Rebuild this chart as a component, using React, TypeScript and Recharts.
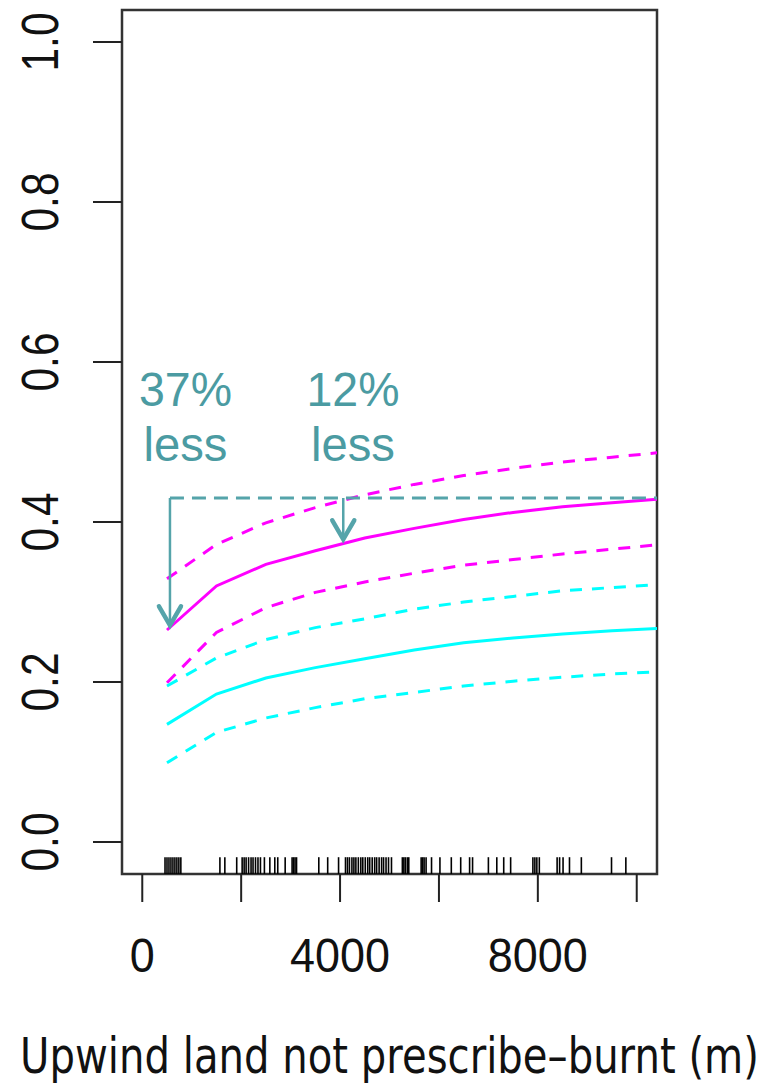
import React from 'react';
import { LineChart, Line, XAxis, YAxis, ReferenceLine, ReferenceArea, ReferenceDot, Label } from 'recharts';

// distance grid (m) the fitted curves are evaluated on
const DIST = [500, 1500, 2500, 3500, 4500, 5500, 6500, 7500, 8500, 9500, 10500];

// fitted probability and confidence bands, magenta group
const MAGENTA_FIT = [0.265, 0.32, 0.347, 0.364, 0.38, 0.392, 0.403, 0.412, 0.419, 0.424, 0.429];
const MAGENTA_HI = [0.329, 0.372, 0.399, 0.418, 0.434, 0.447, 0.458, 0.467, 0.475, 0.481, 0.487];
const MAGENTA_LO = [0.199, 0.262, 0.293, 0.312, 0.325, 0.336, 0.346, 0.353, 0.36, 0.366, 0.372];

// cyan group
const CYAN_FIT = [0.147, 0.185, 0.205, 0.218, 0.229, 0.24, 0.249, 0.255, 0.26, 0.264, 0.267];
const CYAN_HI = [0.195, 0.23, 0.253, 0.268, 0.279, 0.291, 0.3, 0.307, 0.314, 0.318, 0.322];
const CYAN_LO = [0.099, 0.137, 0.155, 0.168, 0.179, 0.187, 0.195, 0.201, 0.206, 0.21, 0.213];

// observed distances shown as a rug along the bottom
const RUG = [
  460, 500, 540, 580, 620, 660, 700, 740, 780,
  1570, 1670, 1910, 2020, 2060, 2100, 2150, 2200, 2240, 2290, 2340, 2390,
  2470, 2580, 2680, 2740, 2890, 3030, 3060, 3090, 3120,
  3570, 3750, 3970, 4110, 4150, 4190, 4240, 4280, 4320, 4370, 4420, 4460,
  4510, 4560, 4600, 4650, 4700, 4740, 4790, 4840, 4880, 4930, 4980, 5040,
  5260, 5290, 5320, 5360, 5390, 5640, 5670, 5700, 5740, 5850, 6020, 6250,
  6440, 6620, 6680, 7000, 7170, 7310, 7450, 7900, 7940, 7980, 8030,
  8390, 8440, 8510, 8640, 8880, 9490, 9780,
];

const X_TICKS = [0, 2000, 4000, 6000, 8000, 10000];
const X_LABELS = [0, 4000, 8000];
const Y_TICKS = [0, 0.2, 0.4, 0.6, 0.8, 1.0];

// reduction arrows: level of the reference line, arrow positions and the stated reductions
const REF_LEVEL = 0.43;
const ARROW_X = [560, 4065];
const ARROW_PCT = [37, 12];

const X_DOMAIN: [number, number] = [-410, 10410];
const Y_DOMAIN: [number, number] = [-0.04, 1.04];

const MAGENTA = '#ff00ff';
const CYAN = '#00ffff';
const TEAL = '#55a4aa';
const TEAL_TEXT = '#4b9ba2';
const DIGITS = '"Liberation Sans", Arial, sans-serif';

const data = DIST.map((d, i) => ({
  d,
  mFit: MAGENTA_FIT[i],
  mHi: MAGENTA_HI[i],
  mLo: MAGENTA_LO[i],
  cFit: CYAN_FIT[i],
  cHi: CYAN_HI[i],
  cLo: CYAN_LO[i],
}));

// text anchors for the percentage notes (data units)
const NOTE_POS = [
  { x: 874, y: 0.545 },
  { x: 4261, y: 0.545 },
];

function XTick(props: any) {
  const { x, y, payload } = props;
  if (!X_LABELS.includes(payload.value)) return null;
  const s = String(payload.value);
  return (
    <text x={x} y={y + 68} textAnchor="middle" fontFamily={DIGITS} fontSize={49} fill="#111"
      textLength={25 * s.length} lengthAdjust="spacingAndGlyphs">
      {s}
    </text>
  );
}

function YTick(props: any) {
  const { x, y, payload } = props;
  return (
    <text transform={`translate(${x - 33}, ${y}) rotate(-90)`} textAnchor="middle" fontFamily={DIGITS}
      fontSize={51} fill="#111" textLength={59} lengthAdjust="spacingAndGlyphs">
      {payload.value.toFixed(1)}
    </text>
  );
}

function Chevron(props: any) {
  const { cx, cy } = props;
  return (
    <path d={`M${cx - 11},${cy - 19} L${cx},${cy} L${cx + 11},${cy - 19}`} fill="none" stroke={TEAL}
      strokeWidth={4.5} strokeLinecap="round" strokeLinejoin="miter" />
  );
}

function Note(pct: number) {
  return (props: any) => (
    <g fill={TEAL_TEXT} fontFamily={DIGITS} fontSize={48} textAnchor="middle">
      <text x={props.cx} y={props.cy} textLength={93} lengthAdjust="spacingAndGlyphs">{pct}%</text>
      <text x={props.cx} y={props.cy + 55} textLength={84} lengthAdjust="spacingAndGlyphs">less</text>
    </g>
  );
}

// axis title, squeezed horizontally like the original plot device output
function AxisTitle(p: any) {
  const cx = p.viewBox.x + p.viewBox.width / 2;
  const base = p.viewBox.y + 199;
  return (
    <text transform={`translate(${cx}, ${base}) scale(0.82, 1)`} textAnchor="middle"
      fontFamily='"DejaVu Sans", sans-serif' fontSize={49} fill="#111">
      Upwind land not prescribe–burnt (m)
    </text>
  );
}

export default function App() {
  return (
    <div style={{ position: 'absolute', left: 0, top: 0, background: '#fff', fontFamily: 'sans-serif' }}>
      <LineChart width={780} height={1089} data={data} margin={{ top: 10, right: 123, bottom: 0, left: 0 }}>
        <XAxis dataKey="d" type="number" domain={X_DOMAIN} allowDataOverflow ticks={X_TICKS} interval={0}
          axisLine={false} tickSize={28} tickLine={{ stroke: '#222', strokeWidth: 2 }} height={215} tick={<XTick />}>
          <Label content={<AxisTitle />} />
        </XAxis>
        <YAxis type="number" domain={Y_DOMAIN} allowDataOverflow ticks={Y_TICKS} interval={0} width={122}
          axisLine={false} tickSize={29} tickLine={{ stroke: '#222', strokeWidth: 2 }} tick={<YTick />} />

        <Line dataKey="mHi" stroke={MAGENTA} strokeWidth={3} strokeDasharray="12 10" dot={false} isAnimationActive={false} />
        <Line dataKey="mFit" stroke={MAGENTA} strokeWidth={3} dot={false} isAnimationActive={false} />
        <Line dataKey="mLo" stroke={MAGENTA} strokeWidth={3} strokeDasharray="12 10" dot={false} isAnimationActive={false} />
        <Line dataKey="cHi" stroke={CYAN} strokeWidth={3} strokeDasharray="12 10" dot={false} isAnimationActive={false} />
        <Line dataKey="cFit" stroke={CYAN} strokeWidth={3} dot={false} isAnimationActive={false} />
        <Line dataKey="cLo" stroke={CYAN} strokeWidth={3} strokeDasharray="12 10" dot={false} isAnimationActive={false} />

        {/* rug of observed distances */}
        {RUG.map((r, i) => (
          <ReferenceLine key={`rug-${i}`} segment={[{ x: r, y: -0.04 }, { x: r, y: -0.019 }]}
            stroke="#000" strokeWidth={1.6} ifOverflow="visible" />
        ))}

        {/* reference level and reduction arrows */}
        <ReferenceLine segment={[{ x: ARROW_X[0], y: REF_LEVEL }, { x: X_DOMAIN[1], y: REF_LEVEL }]}
          stroke={TEAL} strokeWidth={3} strokeDasharray="14 8" ifOverflow="visible" />
        {ARROW_X.map((ax, i) => {
          const tip = REF_LEVEL * (1 - ARROW_PCT[i] / 100);
          return (
            <React.Fragment key={`arrow-${i}`}>
              <ReferenceLine segment={[{ x: ax, y: REF_LEVEL }, { x: ax, y: tip }]} stroke={TEAL} strokeWidth={2.5}
                ifOverflow="visible" />
              <ReferenceDot x={ax} y={tip} r={0} shape={<Chevron />} ifOverflow="visible" />
              <ReferenceDot x={NOTE_POS[i].x} y={NOTE_POS[i].y} r={0} shape={Note(ARROW_PCT[i])} ifOverflow="visible" />
            </React.Fragment>
          );
        })}

        {/* plot frame */}
        <ReferenceArea x1={X_DOMAIN[0]} x2={X_DOMAIN[1]} y1={Y_DOMAIN[0]} y2={Y_DOMAIN[1]} fill="none"
          fillOpacity={0} stroke="#333" strokeWidth={2.5} ifOverflow="visible" />
      </LineChart>
    </div>
  );
}
